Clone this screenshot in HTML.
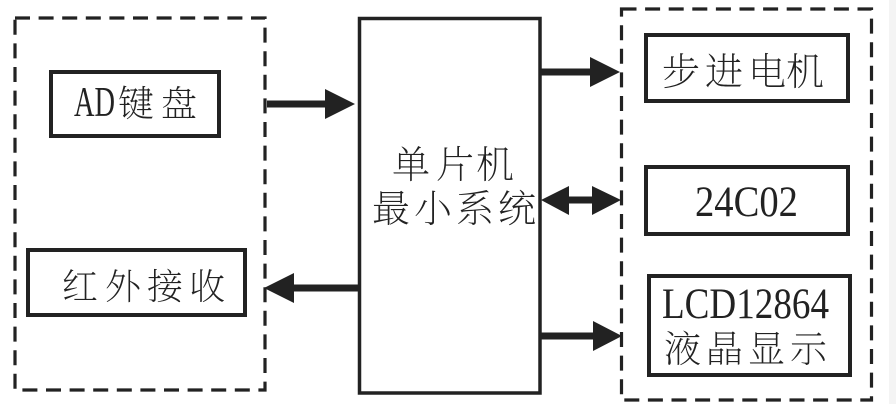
<!DOCTYPE html>
<html><head><meta charset="utf-8"><style>
html,body{margin:0;padding:0;background:#fff;width:896px;height:404px;overflow:hidden}
svg{display:block}
text{font-family:"Liberation Serif","Noto Serif CJK SC",serif;fill:#222;font-size:36px}
.c{font-family:"Noto Serif CJK SC","Liberation Serif",serif;font-weight:200}
</style></head><body>
<svg width="896" height="404" viewBox="0 0 896 404" xmlns="http://www.w3.org/2000/svg">
<rect width="896" height="404" fill="#fff"/>
<rect x="889" y="0" width="7" height="404" fill="#f4f4f4"/>
<g fill="none" stroke="#222">
<rect x="15" y="18" width="250" height="372" stroke-width="3.2" stroke-dasharray="15 8.6"/>
<rect x="621.5" y="9" width="250" height="391" stroke-width="3.2" stroke-dasharray="15 8.6"/>
<rect x="359.5" y="18.5" width="180.5" height="374.5" stroke-width="3.5"/>
<rect x="51" y="72" width="168" height="64" stroke-width="4"/>
<rect x="28" y="250" width="217" height="65" stroke-width="4"/>
<rect x="646" y="35" width="202" height="66" stroke-width="4"/>
<rect x="646" y="167" width="202" height="67" stroke-width="4"/>
<rect x="649" y="276" width="201" height="99" stroke-width="4"/>
</g>
<g fill="#222">
<rect x="267" y="100.500" width="62" height="7"/><polygon points="325,89 355,104 325,119"/>
<rect x="290" y="284.500" width="68" height="7"/><polygon points="264,288 294,273 294,303"/>
<rect x="541" y="68.500" width="52" height="7"/><polygon points="590,57 620,72 590,87"/>
<rect x="565" y="196.500" width="30" height="7"/><polygon points="541,200 569,186 569,215"/><polygon points="592,186 621,200 592,215"/>
<rect x="541" y="332.500" width="55" height="7"/><polygon points="593,321 622,336 593,351"/>
</g>
<text x="74" y="116" style="font-size:42px" textLength="41" lengthAdjust="spacingAndGlyphs">AD</text>
<text class="c" x="118 161" y="116">键盘</text>
<text class="c" x="62 105 147 189" y="299">红外接收</text>
<text class="c" x="392 436 476" y="178" style="font-size:38px">单片机</text>
<text class="c" x="372 414 456 498" y="222" style="font-size:38px">最小系统</text>
<text class="c" x="662 705 748 786" y="85" style="font-size:38px">步进电机</text>
<text x="695" y="216" style="font-size:43px" textLength="103" lengthAdjust="spacingAndGlyphs">24C02</text>
<text x="662" y="318" style="font-size:43px" textLength="167" lengthAdjust="spacingAndGlyphs">LCD12864</text>
<text class="c" x="664 706 748 790" y="362" style="font-size:37px">液晶显示</text>
</svg>
</body></html>
